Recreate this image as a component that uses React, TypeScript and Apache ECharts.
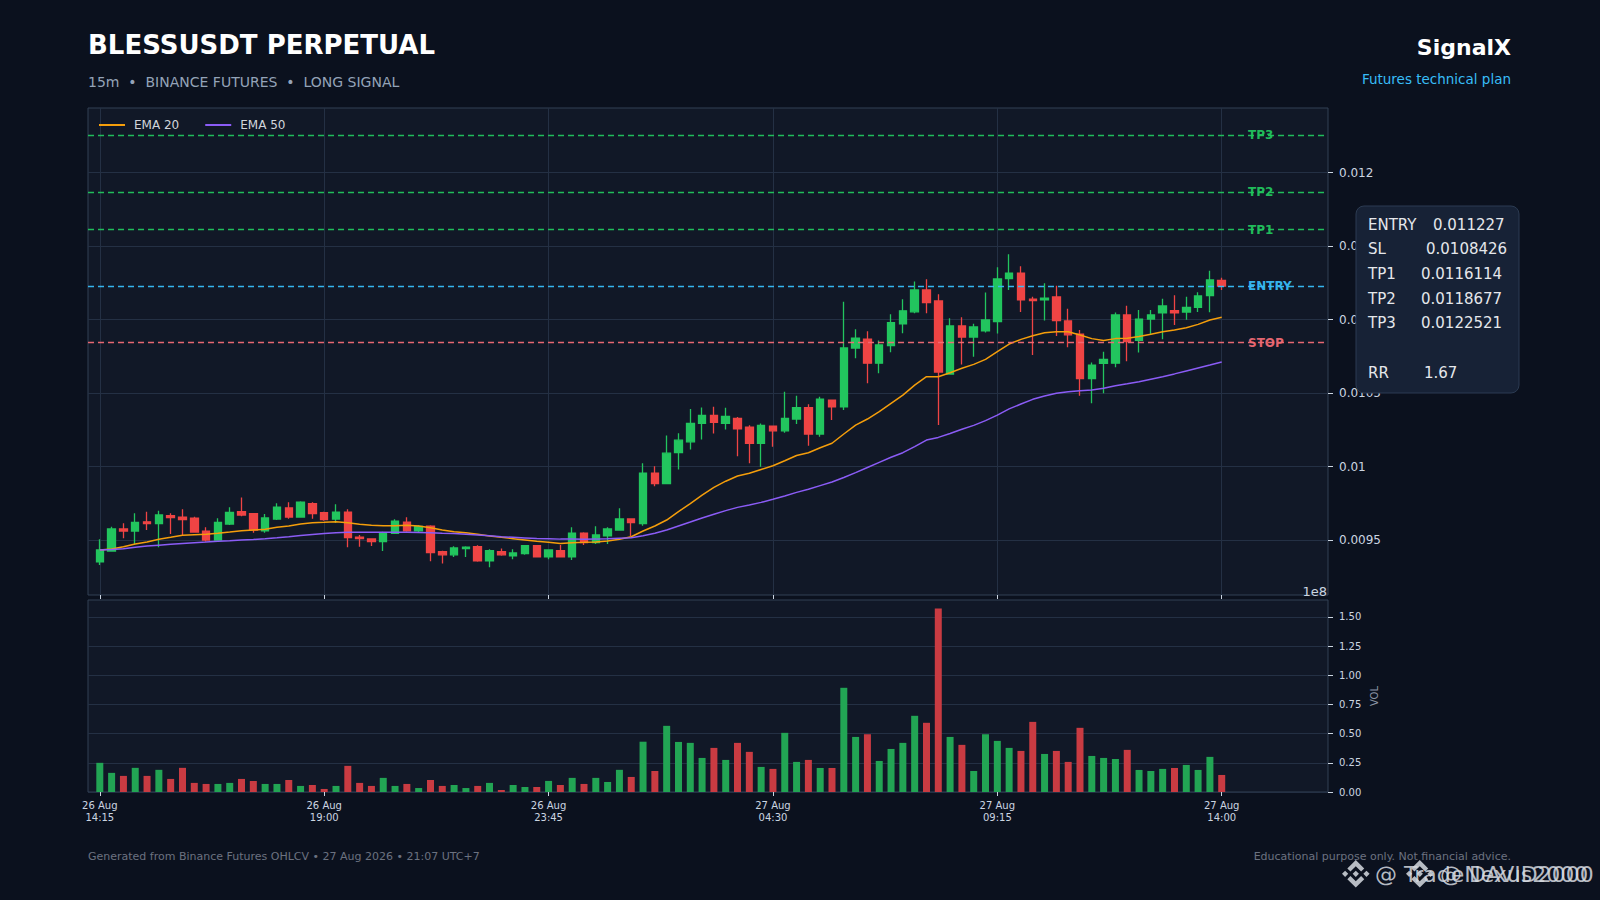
import React, { useEffect, useRef } from "react";
import * as echarts from "echarts";

// ---- OHLC data (15m candles, 26 Aug 14:15 -> 27 Aug 14:00) ----
const opens = [
  0.009352, 0.009425, 0.009575, 0.009561, 0.009624, 0.009611, 0.009665, 0.009656, 0.009648, 0.009561,
  0.0095, 0.009609, 0.009693, 0.009679, 0.009563, 0.009643, 0.009718, 0.009656, 0.009748, 0.009686,
  0.009643, 0.00969, 0.00952, 0.009507, 0.009489, 0.009546, 0.009622, 0.009563, 0.009595, 0.00942,
  0.009399, 0.009441, 0.009454, 0.009359, 0.00942, 0.009393, 0.009407, 0.009461, 0.009386, 0.009427,
  0.009386, 0.009546, 0.009482, 0.009529, 0.009568, 0.009643, 0.009611, 0.009954, 0.009884, 0.010095,
  0.010168, 0.010293, 0.010348, 0.010293, 0.010327, 0.010268, 0.010157, 0.010275, 0.010243, 0.010323,
  0.0104, 0.010221, 0.010452, 0.010405, 0.010806, 0.010867, 0.010703, 0.010822, 0.010971, 0.011052,
  0.011201, 0.011126, 0.010629, 0.010956, 0.010881, 0.010922, 0.010986, 0.011278, 0.011316, 0.011139,
  0.011133, 0.011153, 0.01099, 0.010901, 0.010598, 0.010702, 0.010703, 0.011031, 0.010858, 0.011003,
  0.011046, 0.01106, 0.011051, 0.011083, 0.011162, 0.011266,
];
const highs = [
  0.009505, 0.00959, 0.009614, 0.009682, 0.009693, 0.009699, 0.009682, 0.009709, 0.009659, 0.009586,
  0.009648, 0.009722, 0.00979, 0.009679, 0.009677, 0.00975, 0.009756, 0.009763, 0.009756, 0.009693,
  0.009743, 0.009709, 0.009534, 0.009512, 0.009556, 0.009641, 0.009654, 0.0096, 0.0096, 0.009427,
  0.009457, 0.009457, 0.009464, 0.009437, 0.009443, 0.009437, 0.009466, 0.009464, 0.009437, 0.009466,
  0.009586, 0.009552, 0.009593, 0.009586, 0.009716, 0.009643, 0.010022, 0.010002, 0.010211, 0.010227,
  0.010392, 0.010402, 0.010406, 0.0104, 0.010336, 0.01028, 0.010293, 0.010275, 0.010509, 0.010481,
  0.010423, 0.010475, 0.010452, 0.011121, 0.010933, 0.01092, 0.010857, 0.011035, 0.011138, 0.011258,
  0.011274, 0.011171, 0.011008, 0.011015, 0.010971, 0.011183, 0.011355, 0.011444, 0.011363, 0.011155,
  0.011246, 0.01123, 0.011074, 0.010929, 0.010707, 0.010781, 0.011047, 0.011094, 0.011065, 0.011065,
  0.011142, 0.011165, 0.011155, 0.011185, 0.011332, 0.011284,
];
const lows = [
  0.00933, 0.00942, 0.009512, 0.009473, 0.009568, 0.00945, 0.009541, 0.009534, 0.00955, 0.009488,
  0.009495, 0.009602, 0.009662, 0.00955, 0.00955, 0.009636, 0.009644, 0.009652, 0.009644, 0.009631,
  0.009616, 0.00945, 0.009454, 0.009459, 0.009425, 0.009541, 0.009556, 0.009554, 0.009355, 0.009341,
  0.009384, 0.009384, 0.009352, 0.009314, 0.009393, 0.009369, 0.0094, 0.009382, 0.009369, 0.009382,
  0.009364, 0.009466, 0.009473, 0.009473, 0.009563, 0.009525, 0.009597, 0.009866, 0.009882, 0.00998,
  0.010116, 0.010184, 0.010225, 0.010252, 0.01007, 0.010022, 0.009999, 0.010134, 0.01023, 0.010289,
  0.010141, 0.010203, 0.010316, 0.010384, 0.010736, 0.010567, 0.010634, 0.010777, 0.010907, 0.011043,
  0.011043, 0.010282, 0.010629, 0.010694, 0.010747, 0.010912, 0.010905, 0.011201, 0.011051, 0.010759,
  0.010994, 0.010888, 0.010812, 0.010482, 0.01043, 0.010498, 0.010675, 0.010716, 0.010775, 0.010895,
  0.010865, 0.010963, 0.010999, 0.011051, 0.011049, 0.011201,
];
const closes = [
  0.009432, 0.009575, 0.009561, 0.00962, 0.009611, 0.00967, 0.009652, 0.009638, 0.009554, 0.0095,
  0.00962, 0.009688, 0.00967, 0.009568, 0.00965, 0.009724, 0.009656, 0.009758, 0.009679, 0.009638,
  0.00969, 0.009516, 0.009509, 0.009489, 0.009546, 0.009629, 0.009563, 0.009593, 0.009414, 0.009399,
  0.009446, 0.009452, 0.009359, 0.009427, 0.009399, 0.009412, 0.009461, 0.009386, 0.009432, 0.009386,
  0.009546, 0.009482, 0.009534, 0.009575, 0.009643, 0.009618, 0.009954, 0.009884, 0.010091, 0.010179,
  0.010293, 0.010348, 0.0103, 0.010341, 0.010257, 0.010157, 0.01028, 0.010243, 0.010327, 0.0104,
  0.010221, 0.010459, 0.010405, 0.010806, 0.010874, 0.010703, 0.010827, 0.010979, 0.011059, 0.011201,
  0.011115, 0.010643, 0.010956, 0.010881, 0.010949, 0.010997, 0.011276, 0.011316, 0.011133, 0.011128,
  0.011146, 0.010992, 0.010896, 0.010598, 0.01069, 0.010729, 0.011031, 0.01085, 0.011003, 0.011031,
  0.011092, 0.011046, 0.011082, 0.01116, 0.011269, 0.011227,
];
// volume in units of 1e8
const volumes = [
  0.25, 0.164, 0.138, 0.207, 0.138, 0.19, 0.112, 0.207, 0.078, 0.069,
  0.069, 0.078, 0.112, 0.095, 0.069, 0.069, 0.103, 0.052, 0.06, 0.026,
  0.052, 0.224, 0.078, 0.052, 0.121, 0.052, 0.069, 0.034, 0.103, 0.052,
  0.06, 0.034, 0.052, 0.078, 0.017, 0.06, 0.043, 0.043, 0.095, 0.06,
  0.121, 0.069, 0.121, 0.086, 0.19, 0.129, 0.431, 0.18, 0.567, 0.429,
  0.421, 0.292, 0.378, 0.275, 0.421, 0.344, 0.215, 0.198, 0.507, 0.258,
  0.275, 0.206, 0.206, 0.893, 0.472, 0.495, 0.266, 0.369, 0.421, 0.653,
  0.593, 1.572, 0.472, 0.404, 0.18, 0.495, 0.438, 0.378, 0.352, 0.601,
  0.326, 0.352, 0.258, 0.55, 0.309, 0.292, 0.283, 0.361, 0.189, 0.18,
  0.198, 0.206, 0.232, 0.189, 0.301, 0.146,
];
const ema20 = [
  0.009432, 0.009439, 0.009454, 0.009473, 0.009486, 0.009505, 0.009518, 0.009532, 0.009536, 0.009539,
  0.009546, 0.009554, 0.009563, 0.009568, 0.009573, 0.009586, 0.009595, 0.009609, 0.009618, 0.00962,
  0.009624, 0.009618, 0.009607, 0.0096, 0.009597, 0.009597, 0.0096, 0.009595, 0.009584, 0.009568,
  0.009556, 0.00955, 0.009539, 0.009527, 0.009518, 0.009509, 0.0095, 0.009491, 0.009484, 0.009477,
  0.009482, 0.009484, 0.009487, 0.009493, 0.009505, 0.009522, 0.009561, 0.009595, 0.009636, 0.009693,
  0.009748, 0.009805, 0.009858, 0.0099, 0.009935, 0.009954, 0.00998, 0.010005, 0.010039, 0.010075,
  0.010094, 0.010128, 0.010158, 0.010221, 0.010282, 0.010323, 0.010373, 0.01043, 0.010486, 0.010554,
  0.010611, 0.010611, 0.010638, 0.010668, 0.010695, 0.010729, 0.010781, 0.010833, 0.010865, 0.01089,
  0.01091, 0.010917, 0.010917, 0.010895, 0.01087, 0.010857, 0.01087, 0.010872, 0.010884, 0.0109,
  0.010917, 0.010929, 0.010944, 0.010967, 0.010997, 0.011015,
];
const ema50 = [
  0.009432, 0.009436, 0.009441, 0.00945, 0.009459, 0.009465, 0.009471, 0.009477, 0.009482, 0.009486,
  0.009491, 0.009495, 0.0095, 0.009504, 0.009509, 0.009515, 0.009522, 0.00953, 0.009538, 0.009545,
  0.00955, 0.009552, 0.009552, 0.009552, 0.009552, 0.009552, 0.009552, 0.009551, 0.00955, 0.009546,
  0.009544, 0.009539, 0.009534, 0.009529, 0.009522, 0.009518, 0.009514, 0.00951, 0.009508, 0.009506,
  0.009506, 0.009505, 0.009506, 0.009508, 0.009512, 0.009516, 0.009529, 0.009546, 0.009568, 0.009595,
  0.009622, 0.00965, 0.009675, 0.0097, 0.009722, 0.009738, 0.009756, 0.009777, 0.009799, 0.009824,
  0.009845, 0.00987, 0.009895, 0.009925, 0.009958, 0.009993, 0.010028, 0.010063, 0.010094, 0.010135,
  0.01018, 0.010198, 0.010225, 0.010253, 0.01028, 0.010312, 0.01035, 0.010392, 0.010425, 0.010457,
  0.01048, 0.010498, 0.010509, 0.010515, 0.01052, 0.010532, 0.01055, 0.010563, 0.010577, 0.010594,
  0.010611, 0.01063, 0.01065, 0.01067, 0.01069, 0.010711,
];

const tickCandleIdx = [0, 19, 38, 57, 76, 95];
const tickLabels = ["26 Aug\n14:15", "26 Aug\n19:00", "26 Aug\n23:45", "27 Aug\n04:30", "27 Aug\n09:15", "27 Aug\n14:00"];
const priceTicks = [0.0095, 0.01, 0.0105, 0.011, 0.0115, 0.012];
const volTicks = [0, 0.25, 0.5, 0.75, 1.0, 1.25, 1.5];

const levelNames = ["TP3", "TP2", "TP1", "ENTRY", "STOP"];
const levelValues = [0.0122521, 0.0118677, 0.0116114, 0.011227, 0.0108426];
const levelColors = ["#22c55e", "#22c55e", "#22c55e", "#38bdf8", "#f26b75"];

const infoLabels = ["ENTRY", "SL", "TP1", "TP2", "TP3", "RR"];
const infoValues = ["0.011227", "0.0108426", "0.0116114", "0.0118677", "0.0122521", "1.67"];

const PAD_LEFT = 1;
const PAD_RIGHT = 9;

const BINANCE_D =
  "M16.624 13.9202l2.7175 2.7154-7.353 7.353-7.353-7.352 2.7175-2.7164 4.6355 4.6595 4.6356-4.6595zm4.6366-4.6366L24 12l-2.7154 2.7164L18.5682 12l2.6924-2.7164zm-9.272.001l2.7163 2.6914-2.7164 2.7174v-.001L9.2721 12l2.7164-2.7154zm-9.2722-.001L5.4088 12l-2.6914 2.6924L0 12l2.7164-2.7164zM11.9885.0115l7.353 7.329-2.7174 2.7154-4.6356-4.6356-4.6355 4.6595-2.7174-2.7154 7.353-7.353z";

let logoRegistered = false;
function ensureLogo() {
  if (logoRegistered) return;
  echarts.graphic.registerShape("binanceLogo", echarts.graphic.extendPath(BINANCE_D, {}) as any);
  logoRegistered = true;
}

const FONT = "DejaVu Sans";

function buildCategories(): string[] {
  const n = opens.length + PAD_LEFT + PAD_RIGHT;
  const cats: string[] = [];
  const startMin = 14 * 60 + 15 - PAD_LEFT * 15;
  for (let k = 0; k < n; k++) {
    const m = startMin + k * 15;
    const day = 26 + Math.floor(m / 1440);
    const mm = m % 1440;
    const hh = String(Math.floor(mm / 60)).padStart(2, "0");
    const mi = String(mm % 60).padStart(2, "0");
    cats.push(`${day} Aug ${hh}:${mi}`);
  }
  return cats;
}

export default function App() {
  const ref = useRef<HTMLDivElement>(null);

  useEffect(() => {
    if (!ref.current) return;
    ensureLogo();
    const chart = echarts.init(ref.current, undefined, { renderer: "svg" });

    const cats = buildCategories();
    const tickCats = tickCandleIdx.map((i) => i + PAD_LEFT);
    const isTick = (idx: number) => tickCats.indexOf(idx) >= 0;

    const candleData = opens.map((o, i) => [i + PAD_LEFT, o, closes[i], lows[i], highs[i]]);
    const volData = volumes.map((v, i) => ({
      value: [i + PAD_LEFT, v],
      itemStyle: { color: closes[i] >= opens[i] ? "#22a554" : "#c93b42" },
    }));

    const priceFmt = (v: number) => {
      const r = v / 0.0005;
      if (Math.abs(r - Math.round(r)) > 1e-6) return "";
      return String(parseFloat(v.toFixed(4)));
    };
    const volFmt = (v: number) => {
      const r = v / 0.25;
      if (Math.abs(r - Math.round(r)) > 1e-6) return "";
      return v.toFixed(2);
    };

    const gridLine = "#243044";
    const axisTxt = "#cbd5e1";

    const graphic: any[] = [
      { type: "text", x: 88, y: 45, z: 100, style: { text: "BLESSUSDT PERPETUAL", fill: "#ffffff", font: `bold 26px "${FONT}"`, align: "left", verticalAlign: "middle" } },
      { type: "text", x: 88, y: 81.5, z: 100, style: { text: "15m  •  BINANCE FUTURES  •  LONG SIGNAL", fill: "#94a3b8", font: `14px "${FONT}"`, align: "left", verticalAlign: "middle" } },
      { type: "text", x: 1511, y: 47, z: 100, style: { text: "SignalX", fill: "#ffffff", font: `bold 22px "${FONT}"`, align: "right", verticalAlign: "middle" } },
      { type: "text", x: 1511, y: 78.5, z: 100, style: { text: "Futures technical plan", fill: "#38bdf8", font: `13.5px "${FONT}"`, align: "right", verticalAlign: "middle" } },
      { type: "text", x: 1327, y: 591, z: 100, style: { text: "1e8", fill: axisTxt, font: `13px "${FONT}"`, align: "right", verticalAlign: "middle" } },
      {
        type: "rect", z: 100,
        shape: { x: 1356, y: 206, width: 163, height: 187, r: 8 },
        style: { fill: "#172236", stroke: "#2c3b52", lineWidth: 1 },
      },
      { type: "text", x: 88, y: 856, z: 100, style: { text: "Generated from Binance Futures OHLCV • 27 Aug 2026 • 21:07 UTC+7", fill: "#6b7280", font: `11px "${FONT}"`, align: "left", verticalAlign: "middle" } },
      { type: "text", x: 1511, y: 856, z: 100, style: { text: "Educational purpose only. Not financial advice.", fill: "#6b7280", font: `11px "${FONT}"`, align: "right", verticalAlign: "middle" } },
      { type: "binanceLogo", x: 1342, y: 860, scaleX: 1.15, scaleY: 1.15, z: 101, style: { fill: "#d6dae0", opacity: 0.85 } },
      { type: "binanceLogo", x: 1406, y: 860, scaleX: 1.15, scaleY: 1.15, z: 101, style: { fill: "#d6dae0", opacity: 0.85 } },
      { type: "text", x: 1375, y: 874, z: 101, style: { text: "@ TradeNexus2000", fill: "#d6dae0", opacity: 0.85, font: `22px "${FONT}"`, align: "left", verticalAlign: "middle" } },
      { type: "text", x: 1440, y: 874, z: 101, style: { text: "@ DAVID2000", fill: "#d6dae0", opacity: 0.85, font: `22px "${FONT}"`, align: "left", verticalAlign: "middle" } },
    ];
    const infoY = [224.5, 249.3, 274, 298.7, 323.4, 372.5];
    const infoValX = [1433, 1426, 1421, 1421, 1421, 1424];
    infoLabels.forEach((lab, i) => {
      graphic.push({ type: "text", x: 1368, y: infoY[i], z: 101, style: { text: lab, fill: "#e5e7eb", font: `15px "${FONT}"`, align: "left", verticalAlign: "middle" } });
      graphic.push({ type: "text", x: infoValX[i], y: infoY[i], z: 101, style: { text: infoValues[i], fill: "#e5e7eb", font: `15px "${FONT}"`, align: "left", verticalAlign: "middle" } });
    });

    const option: any = {
      animation: false,
      backgroundColor: "#0b111e",
      textStyle: { fontFamily: FONT },
      legend: {
        left: 99,
        top: 119,
        padding: 0,
        itemWidth: 26,
        itemHeight: 2,
        itemGap: 26,
        selectedMode: false,
        textStyle: { color: "#d1d5db", fontSize: 12, fontFamily: FONT, padding: [0, 0, 0, 4] },
        data: [
          { name: "EMA 20", icon: "rect" },
          { name: "EMA 50", icon: "rect" },
        ],
      },
      grid: [
        { left: 88, top: 108, width: 1240, height: 487, show: true, backgroundColor: "#111827", borderColor: "#334155", borderWidth: 1 },
        { left: 88, top: 600, width: 1240, height: 192, show: true, backgroundColor: "#111827", borderColor: "#334155", borderWidth: 1 },
      ],
      xAxis: [
        {
          type: "category", gridIndex: 0, data: cats, boundaryGap: false,
          axisLine: { show: false },
          axisTick: { show: true, length: 4, interval: (i: number) => isTick(i), lineStyle: { color: axisTxt } },
          axisLabel: { show: false },
          splitLine: { show: true, interval: (i: number) => isTick(i), lineStyle: { color: gridLine, width: 1 } },
        },
        {
          type: "category", gridIndex: 1, data: cats, boundaryGap: false,
          axisLine: { show: false },
          axisTick: { show: true, length: 4, interval: (i: number) => isTick(i), lineStyle: { color: axisTxt } },
          axisLabel: {
            show: true, interval: (i: number) => isTick(i), color: axisTxt, fontSize: 10, lineHeight: 11.5, margin: 8, fontFamily: FONT,
            formatter: (_v: string, i: number) => {
              const t = tickCats.indexOf(i);
              return t >= 0 ? tickLabels[t] : "";
            },
          },
          splitLine: { show: false },
        },
      ],
      yAxis: [
        {
          type: "value", gridIndex: 0, position: "right", scale: true,
          min: 0.0091259, max: 0.0124388, minInterval: 0.0005, maxInterval: 0.0005,
          axisLine: { show: false },
          axisTick: { show: true, length: 5, customValues: priceTicks, lineStyle: { color: axisTxt } },
          axisLabel: { color: axisTxt, fontSize: 12, margin: 11, fontFamily: FONT, customValues: priceTicks, formatter: priceFmt },
          splitLine: { show: true, lineStyle: { color: gridLine, width: 1 } },
        },
        {
          type: "value", gridIndex: 1, position: "right",
          min: 0, max: 1.6454, interval: 0.25,
          name: "VOL", nameLocation: "middle", nameGap: 41, nameRotate: 90, nameMoveOverlap: false,
          nameTextStyle: { color: "#8b95a5", fontSize: 10, fontFamily: FONT },
          axisLine: { show: false },
          axisTick: { show: true, length: 5, customValues: volTicks, lineStyle: { color: axisTxt } },
          axisLabel: { color: axisTxt, fontSize: 10, margin: 11, fontFamily: FONT, customValues: volTicks, formatter: volFmt },
          splitLine: { show: true, lineStyle: { color: gridLine, width: 1 } },
        },
      ],
      series: [
        {
          name: "BLESSUSDT",
          type: "candlestick",
          xAxisIndex: 0, yAxisIndex: 0,
          data: candleData,
          encode: { x: 0, y: [1, 2, 3, 4] },
          barWidth: 8,
          itemStyle: { color: "#22c55e", color0: "#ef4444", borderColor: "#22c55e", borderColor0: "#ef4444", borderWidth: 1.3 },
        },
        {
          name: "EMA 20", type: "line", xAxisIndex: 0, yAxisIndex: 0,
          data: ema20.map((v, i) => [i + PAD_LEFT, v]),
          showSymbol: false, symbol: "none",
          lineStyle: { color: "#f59e0b", width: 1.5 }, itemStyle: { color: "#f59e0b" },
          markLine: {
            silent: true,
            symbol: ["none", "none"],
            precision: 8,
            animation: false,
            label: {
              show: true, position: "insideEnd", distance: 80, align: "left",
              formatter: "{b}", fontWeight: "bold", fontSize: 12, fontFamily: FONT,
            },
            data: levelNames.map((n, i) => ({
              name: n,
              yAxis: levelValues[i],
              lineStyle: { color: levelColors[i], type: [6, 4], width: 1.4, opacity: 0.95 },
              label: { color: levelColors[i] },
            })),
          },
        },
        {
          name: "EMA 50", type: "line", xAxisIndex: 0, yAxisIndex: 0,
          data: ema50.map((v, i) => [i + PAD_LEFT, v]),
          showSymbol: false, symbol: "none",
          lineStyle: { color: "#8b5cf6", width: 1.5 }, itemStyle: { color: "#8b5cf6" },
        },
        {
          name: "Volume", type: "bar", xAxisIndex: 1, yAxisIndex: 1,
          data: volData, barWidth: 7,
        },
      ],
      graphic,
    };

    chart.setOption(option);
    return () => chart.dispose();
  }, []);

  return <div ref={ref} style={{ position: "fixed", left: 0, top: 0, width: 1600, height: 900 }} />;
}
